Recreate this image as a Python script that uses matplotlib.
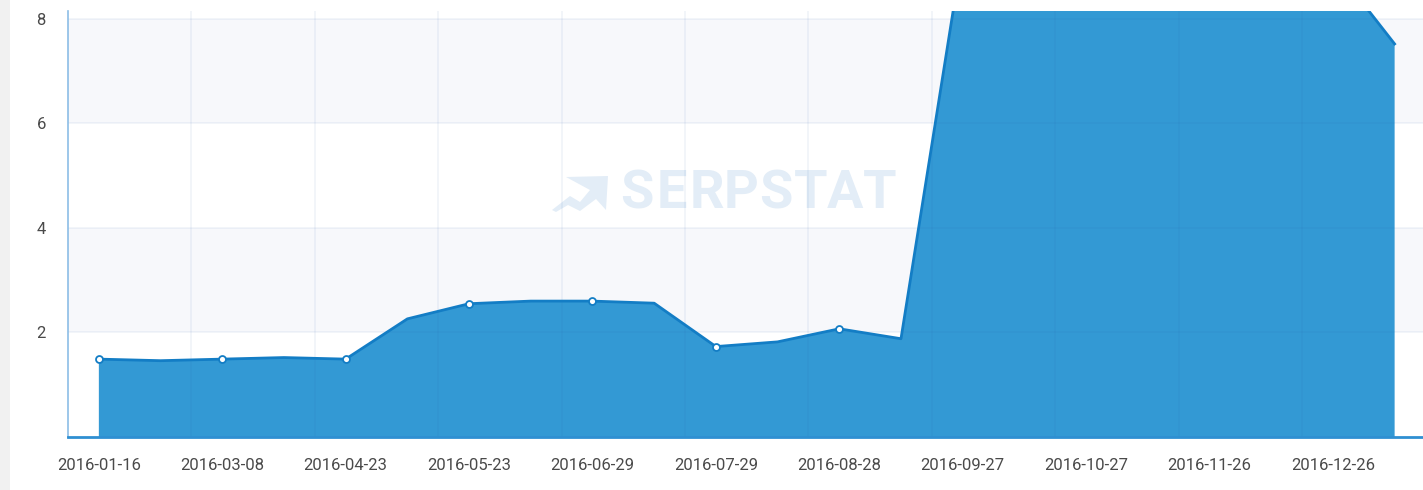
import matplotlib
matplotlib.use("Agg")
import matplotlib.pyplot as plt
from matplotlib.patches import Rectangle, Polygon
import numpy as np

# ---- data ----
dates = ["2016-01-16", "2016-02-11", "2016-03-08", "2016-04-01", "2016-04-23",
         "2016-05-08", "2016-05-23", "2016-06-10", "2016-06-29", "2016-07-14",
         "2016-07-29", "2016-08-13", "2016-08-28", "2016-09-12", "2016-09-27",
         "2016-10-12", "2016-10-27", "2016-11-11", "2016-11-26", "2016-12-11",
         "2016-12-26", "2017-01-10"]
values = [1.49, 1.46, 1.49, 1.52, 1.49, 2.26, 2.55, 2.60, 2.60, 2.56,
          1.73, 1.82, 2.07, 1.88, 9.3, 9.6, 9.8, 9.7, 9.5, 9.2,
          9.03, 7.52]
marker_idx = [0, 2, 4, 6, 8, 10, 12]
label_idx = list(range(0, 21, 2))
y_ticks = [2, 4, 6, 8]

W, H = 1423, 490
fig = plt.figure(figsize=(W / 100, H / 100), dpi=100)
fig.patch.set_facecolor("white")

# left grey page stripe
fig.patches.append(Rectangle((0, 0), 10 / W, 1, transform=fig.transFigure,
                             facecolor="#f1f1f1", edgecolor="none", zorder=0))

left, bottom_px, top_px = 68, 437, 11
ax = fig.add_axes([left / W, (H - bottom_px) / H, 1 - left / W, (bottom_px - top_px) / H])
ax.set_facecolor("white")

x = np.arange(len(values))
ax.set_xlim(-0.5, 21.46)
ax.set_ylim(0, 8.15)

# alternating bands
for lo, hi in [(2, 4), (6, 8)]:
    ax.axhspan(lo, hi, color="#f7f8fb", zorder=0.2, lw=0)

# watermark
wm_color = "#e3edf7"
letters = "SERPSTAT"
x0, x1 = 620, 897
step = (x1 - x0) / len(letters)
for i, ch in enumerate(letters):
    cx = x0 + step * (i + 0.5)
    ax.text(cx / W, 1 - 194 / H, ch, transform=fig.transFigure, ha="center",
            va="center", fontsize=39, fontweight="bold", family="Roboto",
            color=wm_color, zorder=0.5)
icon = [(566, 177), (608, 176), (606, 210), (596, 199), (580, 211),
        (568, 205), (556, 212), (552, 210), (570, 196), (580, 202), (590, 190)]
ax.add_patch(Polygon([(px / W, 1 - py / H) for px, py in icon],
                     closed=True, transform=fig.transFigure,
                     facecolor=wm_color, edgecolor="none", zorder=0.5))

# series
ax.fill_between(x, values, 0, color="#3399d4", lw=0, zorder=1)
ax.plot(x, values, color="#137dc5", lw=2, zorder=3, solid_joinstyle="round")
ax.plot(x[marker_idx], np.array(values)[marker_idx], ls="none", marker="o",
        ms=5, mfc="white", mec="#137dc5", mew=1.3, zorder=4)

# grid lines (over fill, translucent)
grid_c = (0.15, 0.35, 0.65, 0.07)
for gy in y_ticks:
    ax.axhline(gy, color=grid_c, lw=1.2, zorder=2)
for gx in np.arange(1.5, 21, 2):
    ax.axvline(gx, color=grid_c, lw=1.2, zorder=2)

# axes styling
for s in ["top", "right"]:
    ax.spines[s].set_visible(False)
ax.spines["left"].set_color("#8cbde6")
ax.spines["left"].set_linewidth(1.2)
ax.spines["bottom"].set_color("#2f8fd2")
ax.spines["bottom"].set_linewidth(2)
ax.spines["bottom"].set_zorder(5)

ax.set_yticks(y_ticks)
ax.set_yticklabels([str(v) for v in y_ticks])
ax.set_xticks(label_idx)
ax.set_xticklabels([dates[i] for i in label_idx])
ax.tick_params(axis="both", length=0, labelsize=12)
ax.tick_params(axis="y", pad=16)
ax.tick_params(axis="x", pad=15)
for lab in ax.get_xticklabels() + ax.get_yticklabels():
    lab.set_family("Roboto")
    lab.set_color("#4a4a4a")

fig.savefig("out.png", dpi=100, facecolor="white")
